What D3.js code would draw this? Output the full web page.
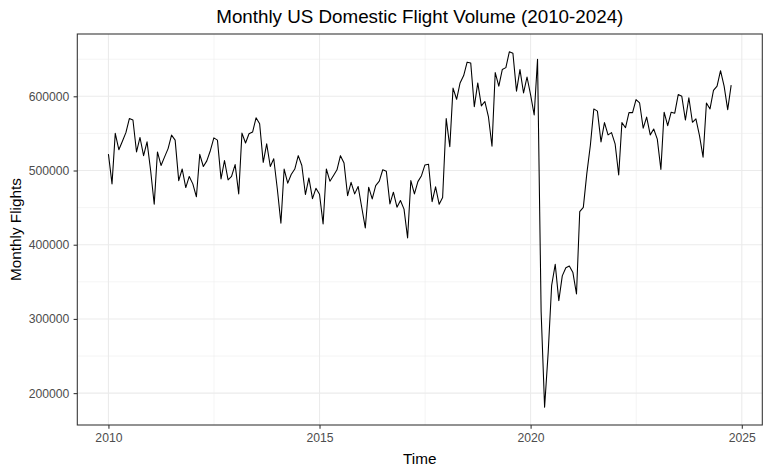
<!DOCTYPE html>
<html>
<head>
<meta charset="utf-8">
<script src="https://cdn.jsdelivr.net/npm/d3@7"></script>
<style>
  html, body { margin: 0; padding: 0; background: #ffffff; }
  svg { display: block; font-family: "Liberation Sans", Arial, sans-serif; }
</style>
</head>
<body>
<svg id="chart" width="770" height="475"></svg>
<script>
// ---- Data ----
const startYear = 2010;
const flights = [
  // 2010
  522000, 482000, 550000, 528000, 539000, 551000, 570000, 568000, 525000, 544500, 520000, 538600,
  // 2011
  500000, 454600, 525000, 506800, 518000, 529500, 547700, 541000, 486400, 502000, 477000, 492000,
  // 2012
  482000, 464600, 521800, 505400, 513000, 527000, 544000, 541000, 488700, 513500, 487400, 492000,
  // 2013
  508000, 468500, 550400, 537000, 549500, 551800, 571000, 563000, 511000, 536000, 505400, 515800,
  // 2014
  475000, 429000, 502000, 483000, 494600, 502000, 520000, 506800, 467600, 490000, 462000, 476000,
  // 2015
  468000, 428000, 502000, 485600, 493000, 501000, 520000, 510000, 466000, 484000, 468500, 478500,
  // 2016
  450500, 422600, 477500, 461700, 479700, 485600, 501000, 499000, 455000, 470800, 450500, 459500,
  // 2017
  448000, 409000, 486500, 468500, 485000, 493000, 507500, 508500, 458000, 478000, 454500, 463600,
  // 2018
  570000, 532000, 611000, 596000, 618000, 628000, 646000, 645000, 586000, 618000, 587000, 593000,
  // 2019
  572700, 532700, 632000, 613600, 636000, 638600, 660000, 658000, 607000, 636000, 604500, 626000,
  // 2020
  602000, 575000, 650000, 310000, 181000, 254600, 345000, 373600, 324700, 358000, 369000, 371300,
  // 2021
  362500, 333600, 444500, 450300, 495500, 534000, 583000, 580000, 538600, 564500, 548000, 551000,
  // 2022
  536000, 494000, 564500, 557700, 578000, 578000, 595500, 591000, 557000, 572000, 548000, 556000,
  // 2023
  542300, 501400, 578600, 560500, 578600, 577300, 602300, 600000, 568000, 598000, 565000, 569500,
  // 2024
  547000, 518000, 591000, 583000, 608000, 613600, 634500, 613600, 582000, 615000
];
const xTickYears = [2010, 2015, 2020, 2025];
const xMinorYears = [2012.5, 2017.5, 2022.5];
const yTicks = [200000, 300000, 400000, 500000, 600000];
const yMinorTicks = [250000, 350000, 450000, 550000, 650000];
const titleText = "Monthly US Domestic Flight Volume (2010-2024)";
const xTitle = "Time";
const yTitle = "Monthly Flights";

// ---- Build records ----
const data = flights.map((v, i) => ({ date: new Date(startYear, i, 1), value: v }));
function yearToDate(y) {
  const yr = Math.floor(y);
  const start = new Date(yr, 0, 1).getTime();
  const end = new Date(yr + 1, 0, 1).getTime();
  return new Date(start + (end - start) * (y - yr));
}

// ---- Layout ----
const panel = { left: 77.3, right: 762.3, top: 34, bottom: 425 };

const svg = d3.select("#chart");

// scales with ggplot-like 5% expansion
const xExt = d3.extent(data, d => d.date.getTime());
const xPad = (xExt[1] - xExt[0]) * 0.05;
const x = d3.scaleTime()
  .domain([new Date(xExt[0] - xPad), new Date(xExt[1] + xPad)])
  .range([panel.left, panel.right]);

const yExt = d3.extent(data, d => d.value);
const yPad = (yExt[1] - yExt[0]) * 0.05;
const y = d3.scaleLinear()
  .domain([yExt[0] - yPad, yExt[1] + yPad])
  .range([panel.bottom, panel.top]);

// panel background
svg.append("rect")
  .attr("x", panel.left).attr("y", panel.top)
  .attr("width", panel.right - panel.left).attr("height", panel.bottom - panel.top)
  .attr("fill", "#ffffff");

const grid = svg.append("g");
// minor grid
grid.selectAll("line.ymin").data(yMinorTicks).join("line")
  .attr("x1", panel.left).attr("x2", panel.right)
  .attr("y1", d => y(d)).attr("y2", d => y(d))
  .attr("stroke", "#EBEBEB").attr("stroke-width", 0.55);
grid.selectAll("line.xmin").data(xMinorYears).join("line")
  .attr("y1", panel.top).attr("y2", panel.bottom)
  .attr("x1", d => x(yearToDate(d))).attr("x2", d => x(yearToDate(d)))
  .attr("stroke", "#EBEBEB").attr("stroke-width", 0.55);
// major grid
grid.selectAll("line.ymaj").data(yTicks).join("line")
  .attr("x1", panel.left).attr("x2", panel.right)
  .attr("y1", d => y(d)).attr("y2", d => y(d))
  .attr("stroke", "#EBEBEB").attr("stroke-width", 1.07);
grid.selectAll("line.xmaj").data(xTickYears).join("line")
  .attr("y1", panel.top).attr("y2", panel.bottom)
  .attr("x1", d => x(new Date(d, 0, 1))).attr("x2", d => x(new Date(d, 0, 1)))
  .attr("stroke", "#EBEBEB").attr("stroke-width", 1.07);

// line
const line = d3.line()
  .x(d => x(d.date))
  .y(d => y(d.value));
svg.append("path")
  .datum(data)
  .attr("d", line)
  .attr("fill", "none")
  .attr("stroke", "#000000")
  .attr("stroke-width", 1.07)
  .attr("stroke-linejoin", "round");

// panel border
svg.append("rect")
  .attr("x", panel.left).attr("y", panel.top)
  .attr("width", panel.right - panel.left).attr("height", panel.bottom - panel.top)
  .attr("fill", "none").attr("stroke", "#333333").attr("stroke-width", 1.07);

// axes
const xAxis = d3.axisBottom(x)
  .tickValues(xTickYears.map(yv => new Date(yv, 0, 1)))
  .tickFormat(d3.timeFormat("%Y"))
  .tickSize(3.7).tickPadding(4.5);
const gx = svg.append("g")
  .attr("transform", `translate(0,${panel.bottom})`)
  .call(xAxis);
gx.select(".domain").remove();
gx.selectAll(".tick line").attr("stroke", "#333333").attr("stroke-width", 1.07);
gx.selectAll(".tick text")
  .attr("fill", "#4D4D4D").attr("font-size", "12.2px")
  .attr("font-family", "'Liberation Sans', Arial, sans-serif");

const yAxis = d3.axisLeft(y)
  .tickValues(yTicks)
  .tickFormat(d3.format("d"))
  .tickSize(3.7).tickPadding(4.3);
const gy = svg.append("g")
  .attr("transform", `translate(${panel.left},0)`)
  .call(yAxis);
gy.select(".domain").remove();
gy.selectAll(".tick line").attr("stroke", "#333333").attr("stroke-width", 1.07);
gy.selectAll(".tick text")
  .attr("fill", "#4D4D4D").attr("font-size", "12.2px")
  .attr("font-family", "'Liberation Sans', Arial, sans-serif");

// titles
const cx = (panel.left + panel.right) / 2;
svg.append("text")
  .attr("x", cx).attr("y", 23.3)
  .attr("text-anchor", "middle")
  .attr("font-size", "18.8px").attr("fill", "#000000")
  .text(titleText);

svg.append("text")
  .attr("x", cx).attr("y", 463.5)
  .attr("text-anchor", "middle")
  .attr("font-size", "15.3px").attr("fill", "#000000")
  .text(xTitle);

svg.append("text")
  .attr("transform", `translate(21,${(panel.top + panel.bottom) / 2}) rotate(-90)`)
  .attr("text-anchor", "middle")
  .attr("font-size", "15.3px").attr("fill", "#000000")
  .text(yTitle);
</script>
</body>
</html>
